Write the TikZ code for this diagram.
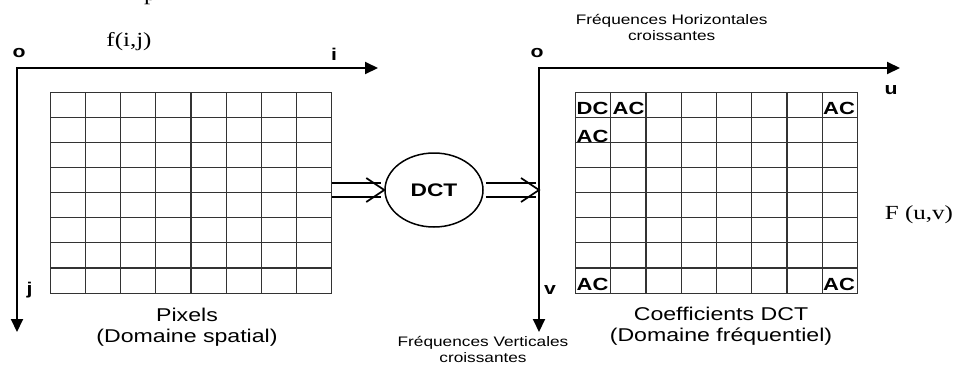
\documentclass[tikz,border=0pt]{standalone}
\usepackage{fontspec}
\setmainfont{Liberation Sans}[FakeStretch=1.25]
\newfontfamily\timesfam{Liberation Serif}[FakeStretch=1.25]
\usetikzlibrary{arrows.meta,shapes.geometric,calc}

% double arrow drawn as two parallel strokes and an open chevron
\newcommand\dblarrowto[2]{%
  \draw[dline] ($(#1)+(0,-7)$) -- ($(#2)+(-3,-7)$);
  \draw[dline] ($(#1)+(0,7)$) -- ($(#2)+(-3,7)$);
  \draw[dline, line join=miter] ($(#2)+(-18,-12)$) -- (#2) -- ($(#2)+(-18,12)$);
}

\begin{document}
\begin{tikzpicture}[x=1pt,y=-1pt,
  axis/.style={line width=2pt, -{Triangle[length=13pt,width=12pt]}},
  cell/.style={line width=1.1pt, draw=black!80},
  dline/.style={line width=1.7pt},
  axlbl/.style={font=\fontsize{17}{17}\selectfont\bfseries, inner sep=0pt},
  caption/.style={font=\fontsize{18.5}{21}\selectfont, align=center, inner sep=0pt},
  small/.style={font=\fontsize{13.8}{16}\selectfont, align=center, inner sep=0pt},
  serif/.style={font=\timesfam\fontsize{20}{20}\selectfont, inner sep=0pt},
  coef/.style={font=\fontsize{17.6}{17.6}\selectfont\bfseries, inner sep=0pt, anchor=base west},
  gridbox/.style={inner sep=0pt, minimum height=201pt}
]
\useasboundingbox (0,0) rectangle (954,365);

% fragment of a caption line above
\begin{scope}
  \clip (0,0) rectangle (954,365);
  \node[serif, anchor=base west] (frag) at (144,0.5) {p};
\end{scope}

% ---------- spatial domain ----------
\coordinate (oL) at (17,68);
\coordinate (iEnd) at (378,68);
\coordinate (jEnd) at (17,332);
\draw[axis] ($(oL)+(-1,0)$) -- (iEnd);
\draw[axis] ($(oL)+(0,-1)$) -- (jEnd);
\node[axlbl] (lo) at (19,53) {o};
\node[axlbl] (li) at (334,54) {i};
\node[axlbl] (lj) at (29.5,290) {j};
\node[serif] (fij) at (129,42) {f(i,j)};

\node[gridbox, minimum width=281pt] (gridL) at (191.2,192.8) {};
\foreach \k in {0,...,8} {
  \draw[cell] ($(gridL.north west)+(\k*35.125,0)$) -- ($(gridL.south west)+(\k*35.125,0)$);
  \draw[cell] ($(gridL.north west)+(0,\k*25.125)$) -- ($(gridL.north east)+(0,\k*25.125)$);
}
\node[caption] (capL) at (187,327.5) {Pixels\\(Domaine spatial)};

% ---------- transform ----------
\node[draw, ellipse, line width=1.5pt, minimum width=98pt, minimum height=74pt, inner sep=0pt,
      font=\fontsize{18.2}{18.2}\selectfont\bfseries] (dct) at (434,190) {DCT};

% ---------- frequency domain ----------
\coordinate (oR) at (539,68);
\coordinate (uEnd) at (900,68);
\coordinate (vEnd) at (539,332);
\draw[axis] ($(oR)+(-1,0)$) -- (uEnd);
\draw[axis] ($(oR)+(0,-1)$) -- (vEnd);
\node[axlbl] (ro) at (537,53) {o};
\node[axlbl] (ru) at (891,90) {u};
\node[axlbl] (rv) at (550,290) {v};
\node[small] (hfreq) at (671.7,27) {Fréquences Horizontales\\croissantes};
\node[small] (vfreq) at (483,349.5) {Fréquences Verticales\\croissantes};
\node[serif] (Fuv) at (919,215) {F (u,v)};

\node[gridbox, minimum width=282pt] (gridR) at (716.7,192.8) {};
\foreach \k in {0,...,8} {
  \draw[cell] ($(gridR.north west)+(\k*35.25,0)$) -- ($(gridR.south west)+(\k*35.25,0)$);
  \draw[cell] ($(gridR.north west)+(0,\k*25.125)$) -- ($(gridR.north east)+(0,\k*25.125)$);
}
\node[coef] (dc) at (576.5,114) {DC};
\node[coef] (ac1) at (612.5,114) {AC};
\node[coef] (ac2) at (823,114) {AC};
\node[coef] (ac3) at (576.5,142) {AC};
\node[coef] (ac4) at (576.5,290) {AC};
\node[coef] (ac5) at (823,290) {AC};
\node[caption] (capR) at (721,326.5) {Coefficients DCT\\(Domaine fréquentiel)};

% ---------- connectors ----------
\coordinate (a1) at (gridL.east |- dct.west);
\dblarrowto{a1}{dct.west}
\coordinate (b1) at ($(dct.east)+(2,0)$);
\coordinate (b2) at (oR |- dct.east);
\dblarrowto{b1}{b2}
\end{tikzpicture}
\end{document}
